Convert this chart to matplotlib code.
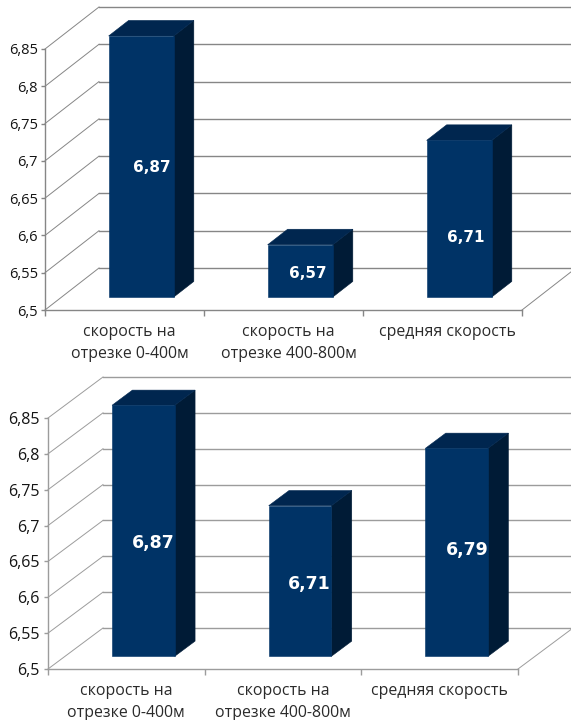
import numpy as np
import matplotlib
matplotlib.use("Agg")
import matplotlib.pyplot as plt
from matplotlib.patches import Polygon

# Data
categories = ["скорость на\nотрезке 0-400м", "скорость на\nотрезке 400-800м", "средняя скорость"]
values_top = [6.87, 6.57, 6.71]
values_bottom = [6.87, 6.71, 6.79]
axis_ticks = [6.5, 6.55, 6.6, 6.65, 6.7, 6.75, 6.8, 6.85]

W, H = 571, 720
FRONT, SIDE, CAP = "#003366", "#001B36", "#00264F"
FONT = ["Open Sans", "DejaVu Sans"]
BAR_FONT = "DejaVu Sans"


def comma(v, fmt="{:g}"):
    return fmt.format(v).replace(".", ",")


def draw_panel(values, left, right, top, bottom, depth_x, depth_y, bar_w,
               label_xy, tick_size, value_size, cat_shift, tick_right, grid):
    ax = fig.add_axes([left / W, 1 - bottom / H, (right - left) / W, (bottom - top) / H])
    ymin, ymax = axis_ticks[0], axis_ticks[-1]
    ax.set_xlim(0, len(values))
    ax.set_ylim(ymin, ymax)
    ax.patch.set_alpha(0)
    for s in ("top", "right"):
        ax.spines[s].set_visible(False)
    for s in ("left", "bottom"):
        ax.spines[s].set_color(grid)
        ax.spines[s].set_linewidth(1.0)

    # Sheared depth direction of the 3D box, in data units
    dx = depth_x / ((right - left) / len(values))
    dy = depth_y / ((bottom - top) / (ymax - ymin))

    def lift(x, y, d):
        return x + d * dx, y + d * dy

    # Back wall gridlines and side wall diagonals
    n = len(values)
    for t in axis_ticks:
        x0, y0 = lift(0, t, 1)
        x1, y1 = lift(n, t, 1)
        ax.plot([x0, x1], [y0, y1], color=grid, lw=1.0, clip_on=False, zorder=1)
        ax.plot([0, x0], [t, y0], color=grid, lw=0.7, clip_on=False, zorder=1)
    x0, y0 = lift(n, ymin, 1)
    ax.plot([n, x0], [ymin, y0], color=grid, lw=0.7, clip_on=False, zorder=1)

    # Bars, truncated at the top of the value axis
    d0, d1 = 0.31, 0.68
    for i, v in enumerate(values):
        h = min(v, ymax)
        xl, xr = i + 0.5 - bar_w / 2, i + 0.5 + bar_w / 2
        corners = {
            "fl": lift(xl, ymin, d0), "fr": lift(xr, ymin, d0),
            "tl": lift(xl, h, d0), "tr": lift(xr, h, d0),
            "br": lift(xr, ymin, d1), "kr": lift(xr, h, d1), "kl": lift(xl, h, d1),
        }
        faces = [
            (("fr", "br", "kr", "tr"), SIDE),
            (("tl", "tr", "kr", "kl"), CAP),
            (("fl", "fr", "tr", "tl"), FRONT),
        ]
        for keys, col in faces:
            ax.add_patch(Polygon([corners[k] for k in keys], closed=True, facecolor=col,
                                 edgecolor=col, lw=0.4, clip_on=False, zorder=3))
        fig.text(label_xy[i][0] / W, 1 - label_xy[i][1] / H, comma(v, "{:.2f}"),
                 color="white", fontsize=value_size, fontweight="bold", family=BAR_FONT,
                 ha="center", va="center", zorder=5)

    # Axes ticks and labels
    ax.set_yticks(axis_ticks)
    ax.set_yticklabels([])
    ax.tick_params(axis="y", length=3, color=grid, width=1)
    for t in axis_ticks:
        py = bottom - (t - ymin) / (ymax - ymin) * (bottom - top)
        fig.text(tick_right / W, 1 - (py + 2) / H, comma(t), fontsize=tick_size,
                 family=FONT, color="#141414", ha="right", va="center")
    ax.set_xticks(np.arange(n + 1))
    ax.set_xticklabels([])
    ax.tick_params(axis="x", length=4, color=grid, width=1)
    for i, c in enumerate(categories):
        px = left + (i + 0.5) * (right - left) / n + cat_shift
        fig.text(px / W, 1 - (bottom + 14) / H, c, fontsize=11.4,
                 family=FONT, color="#2A2A2A", ha="center", va="top", linespacing=1.47)


fig = plt.figure(figsize=(W / 100, H / 100), dpi=100, facecolor="white")

draw_panel(values_top, left=45, right=522, top=49, bottom=310, depth_x=54, depth_y=42,
           bar_w=0.41, label_xy=[(152, 168), (308, 273), (466, 238)],
           tick_size=10.5, value_size=11, cat_shift=5, tick_right=38, grid="#868686")
draw_panel(values_bottom, left=48, right=518, top=418, bottom=669, depth_x=55, depth_y=41,
           bar_w=0.40, label_xy=[(153, 543), (309, 584), (467, 550)],
           tick_size=11.5, value_size=12.5, cat_shift=0, tick_right=40, grid="#9C9C9C")

fig.savefig("out.png", dpi=100)
